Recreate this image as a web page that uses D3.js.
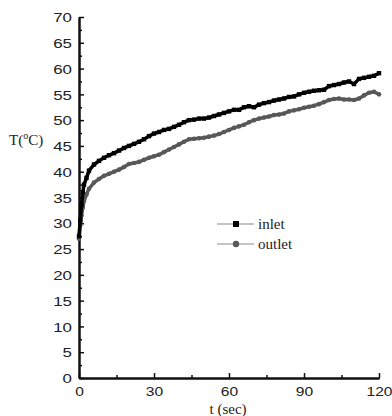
<!DOCTYPE html>
<html>
<head>
<meta charset="utf-8">
<script src="https://cdn.jsdelivr.net/npm/d3@7"></script>
<style>
  body { margin: 0; background: #fff; }
  .axis text { font-family: "Liberation Sans", Arial, sans-serif; font-size: 13px; fill: #222; }
  .lbl { font-family: "Liberation Serif", "Times New Roman", serif; fill: #222; }
</style>
</head>
<body>
<div id="chart"></div>
<script>

var w = 392
var h = 416

// time axis (sec)
var times = [0,0.5,1,1.5,2,3,4,6,8,10,12,14,16,18,20,22,24,26,28,30,32,34,36,38,40,42,44,46,48,50,
  52,54,56,58,60,62,64,66,68,70,72,74,76,78,80,82,84,86,88,90,92,94,96,98,100,102,104,106,108,110,
  112,114,116,118,120]

// temperatures (C)
var inlet = [27.5,30.5,33.5,36,37.5,38.8,40.2,41.4,42.1,42.7,43.2,43.6,44.1,44.6,45.0,45.4,45.8,46.3,46.9,47.4,
  47.7,48.1,48.3,48.7,49.1,49.6,50.0,50.1,50.3,50.3,50.5,50.8,51.1,51.4,51.7,52.0,52.0,52.5,52.7,52.5,
  53.0,53.3,53.5,53.8,54.0,54.2,54.5,54.6,55.0,55.3,55.5,55.7,55.8,55.9,56.6,56.8,57.0,57.3,57.5,57.0,
  58.0,58.2,58.4,58.6,59.1]

var outlet = [27,29.5,31.5,33,34.3,35.6,36.7,37.9,38.6,39.2,39.6,40.0,40.4,40.9,41.5,41.7,41.9,42.3,42.7,43.0,
  43.3,43.8,44.3,44.8,45.3,45.8,46.3,46.4,46.5,46.6,46.8,47.0,47.3,47.7,48.1,48.5,48.8,49.1,49.6,50.0,
  50.3,50.5,50.7,51.0,51.1,51.3,51.7,51.9,52.1,52.4,52.6,52.8,53.1,53.5,53.9,54.1,54.2,54.0,54.0,53.9,
  54.2,54.8,55.3,55.5,55.0]

var seriesNames = ["inlet","outlet"]
var xTicks = [0,30,60,90,120]
var xMinor = [15,45,75,105]
var yTicks = d3.range(0,71,5)
var yMinor = d3.range(2.5,70,5)

var svg = d3.select("#chart").append("svg").attr("width",w).attr("height",h)

var xScale = d3.scaleLinear().domain([0,120]).range([79,379])
var yScale = d3.scaleLinear().domain([0,70]).range([378,17])

// tick labels look horizontally stretched in the original
var sx = 1.2
var sy = 1.3

// minor ticks first
svg.append("g").attr("class","axis")
  .attr("transform","translate(0,"+yScale(0)+")")
  .call(d3.axisBottom(xScale).tickValues(xMinor).tickSize(-3).tickSizeOuter(0).tickFormat(""))
svg.append("g").attr("class","axis")
  .attr("transform","translate("+xScale(0)+",0)")
  .call(d3.axisLeft(yScale).tickValues(yMinor).tickSize(-3).tickSizeOuter(0).tickFormat(""))

var xAxis = svg.append("g").attr("class","axis")
  .attr("transform","translate(0,"+yScale(0)+")")
  .call(d3.axisBottom(xScale).tickValues(xTicks).tickSize(-5).tickSizeOuter(0))
xAxis.selectAll("text").attr("y",9).attr("transform","scale("+sx+",1)")

var yAxis = svg.append("g").attr("class","axis")
  .attr("transform","translate("+xScale(0)+",0)")
  .call(d3.axisLeft(yScale).tickValues(yTicks).tickSize(-5).tickSizeOuter(0))
yAxis.selectAll("text").attr("x",-7/sy).attr("dy","0.36em").attr("transform","scale("+sy+",1)")

svg.selectAll(".axis path, .axis line").attr("stroke","#111")
svg.selectAll(".axis .domain").attr("stroke-width",2)
svg.selectAll(".axis .tick line").attr("stroke-width",1.5)

function series(vals,color,shape){
  var pts = times.map(function(t,i){ return {t:t, v:vals[i]} })
  var line = d3.line()
    .x(function(d){ return xScale(d.t) })
    .y(function(d){ return yScale(d.v) })
  svg.append("path").datum(pts)
    .attr("d",line).attr("fill","none")
    .attr("stroke",color).attr("stroke-width",3.5)
    .attr("stroke-linejoin","round")
  if(shape=="square"){
    svg.selectAll(".sq").data(pts).enter().append("rect")
      .attr("x",function(d){ return xScale(d.t)-2.2 })
      .attr("y",function(d){ return yScale(d.v)-2.2 })
      .attr("width",4.4).attr("height",4.4).attr("fill",color)
  } else {
    svg.selectAll(".ci").data(pts).enter().append("circle")
      .attr("cx",function(d){ return xScale(d.t) })
      .attr("cy",function(d){ return yScale(d.v) })
      .attr("r",2.3).attr("fill",color)
  }
}

series(outlet,"#585858","circle")
series(inlet,"#000","square")

// legend
var lg = svg.append("g")
var legColors = ["#000","#585858"]
seriesNames.forEach(function(name,i){
  var y = 224 + i*20
  lg.append("line").attr("x1",217).attr("x2",254).attr("y1",y).attr("y2",y)
    .attr("stroke","#8a8a8a").attr("stroke-width",1.2)
  if(i==0){
    lg.append("rect").attr("x",233).attr("y",y-3).attr("width",6).attr("height",6).attr("fill",legColors[i])
  } else {
    lg.append("circle").attr("cx",236).attr("cy",y).attr("r",3.2).attr("fill",legColors[i])
  }
  lg.append("text").attr("class","lbl").attr("x",258).attr("y",y+5)
    .style("font-size","15px").text(name)
})

// axis titles
var yt = svg.append("text").attr("class","lbl").attr("x",9).attr("y",145).style("font-size","15px")
yt.append("tspan").text("T(")
yt.append("tspan").attr("dy",-6).style("font-size","10px").text("o")
yt.append("tspan").attr("dy",6).text("C)")

svg.append("text").attr("class","lbl").attr("x",228).attr("y",414)
  .attr("text-anchor","middle").style("font-size","15px").text("t (sec)")

</script>
</body>
</html>
